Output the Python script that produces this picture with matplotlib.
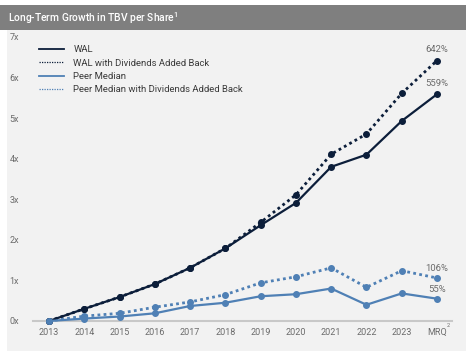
import matplotlib as mpl
from matplotlib import pyplot as plt
from matplotlib.lines import Line2D
from matplotlib.patches import Rectangle
import numpy as np

plt.rcParams['font.family'] = ['Roboto', 'DejaVu Sans']

years = ["2013", "2014", "2015", "2016", "2017", "2018", "2019", "2020", "2021", "2022", "2023", "MRQ"]
wal = [0.0, 0.30, 0.59, 0.91, 1.31, 1.79, 2.36, 2.91, 3.80, 4.10, 4.93, 5.59]
wal_div = [0.0, 0.30, 0.59, 0.91, 1.31, 1.79, 2.43, 3.11, 4.11, 4.61, 5.61, 6.42]
peer = [0.0, 0.06, 0.11, 0.19, 0.37, 0.45, 0.61, 0.66, 0.80, 0.40, 0.68, 0.55]
peer_div = [0.0, 0.12, 0.19, 0.34, 0.47, 0.65, 0.94, 1.09, 1.31, 0.83, 1.24, 1.06]
yticks = [0, 1, 2, 3, 4, 5, 6, 7]

NAVY = "#0c1e3a"
BLUE = "#4f80b5"
GREY_TXT = "#6b6b6b"
DOT = (0, (1, 1.2))

fig = plt.figure(figsize=(4.72, 3.55), dpi=100)
W, H = 472, 355

# panel background and header bar
fig.patches.append(Rectangle((7 / W, 1 - 351 / H), 459 / W, 321 / H, transform=fig.transFigure,
                             facecolor="#f2f2f2", edgecolor="none", zorder=-2))
fig.patches.append(Rectangle((0, 1 - 30 / H), 466 / W, 25 / H, transform=fig.transFigure,
                             facecolor="#7f7f7f", edgecolor="none", zorder=-2))
fig.text(8 / W, 1 - 18 / H, r"Long-Term Growth in TBV per Share$^\mathregular{1}$", color="white",
         fontsize=7.4, fontweight="medium", va="center", ha="left")

ax = fig.add_axes([33 / W, 1 - 321 / H, 419 / W, 284 / H])
ax.set_facecolor("none")
ax.set_zorder(1)
x = np.arange(len(years))

ax.plot(x, wal, color=NAVY, lw=1.6, marker="o", ms=4, clip_on=False, zorder=4)
ax.plot(x, wal_div, color=NAVY, lw=2, ls=DOT, marker="o", ms=4, clip_on=False, zorder=3)
ax.plot(x, peer, color=BLUE, lw=1.6, marker="o", ms=4, clip_on=False, zorder=4)
ax.plot(x, peer_div, color=BLUE, lw=2, ls=DOT, marker="o", ms=4, clip_on=False, zorder=3)

step = 388 / 11
ax.set_xlim(-16 / step, 11 + 15 / step)
ax.set_ylim(0, 7)
ax.set_xticks(x)
ax.set_xticklabels(years)
ax.set_yticks(yticks)
ax.set_yticklabels([f"{v}x" for v in yticks])
ax.tick_params(length=0, labelsize=6.5, colors=GREY_TXT)
ax.tick_params(axis="y", pad=10)
ax.tick_params(axis="x", pad=5)
for s in ["top", "right", "left"]:
    ax.spines[s].set_visible(False)
ax.spines["bottom"].set_color("#c8c8c8")
ax.spines["bottom"].set_linewidth(1.5)

last = len(years) - 1
# footnote mark on MRQ
ax.annotate("2", (last, 0), xytext=(7, -3.5), textcoords="offset points",
            fontsize=4, color=GREY_TXT, ha="left", va="center", annotation_clip=False)

# end labels
ax.annotate("642%", (last, wal_div[-1]), xytext=(0, 6), textcoords="offset points",
            ha="center", fontsize=6.8, color=GREY_TXT)
ax.annotate("559%", (last, wal[-1]), xytext=(0, 6), textcoords="offset points",
            ha="center", fontsize=6.8, color=GREY_TXT)
ax.annotate("106%", (last, peer_div[-1]), xytext=(0, 5), textcoords="offset points",
            ha="center", fontsize=6.8, color=GREY_TXT)
ax.annotate("55%", (last, peer[-1]), xytext=(0, 5), textcoords="offset points",
            ha="center", fontsize=6.8, color=GREY_TXT)

handles = [
    Line2D([], [], color=NAVY, lw=1.3),
    Line2D([], [], color=NAVY, lw=0.9, ls=(0, (1, 1))),
    Line2D([], [], color=BLUE, lw=1.3),
    Line2D([], [], color=BLUE, lw=0.9, ls=(0, (1, 1))),
]
labels = ["WAL", "WAL with Dividends Added Back", "Peer Median", "Peer Median with Dividends Added Back"]
ax.legend(handles, labels, loc="upper left", bbox_to_anchor=(-0.005, 1.0), frameon=False,
          fontsize=6.8, handlelength=2.6, handletextpad=1.0, labelspacing=0.45, labelcolor="#3a3a3a")

fig.savefig("out.png", dpi=100)
